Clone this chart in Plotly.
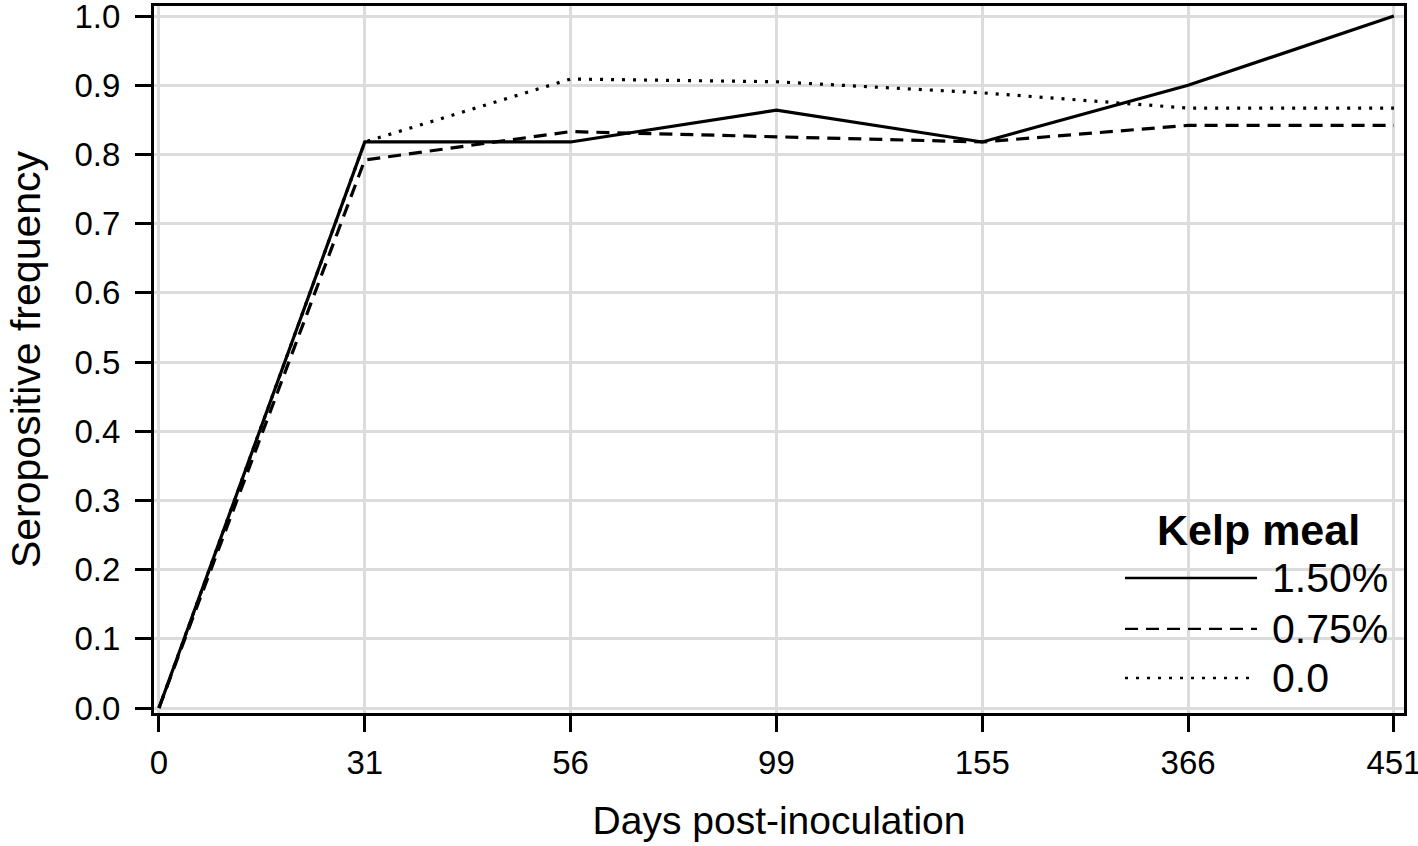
import plotly.graph_objects as go

days = ["0", "31", "56", "99", "155", "366", "451"]
kelp_150 = [0.0, 0.818, 0.818, 0.864, 0.818, 0.900, 1.000]
kelp_075 = [0.0, 0.792, 0.833, 0.826, 0.818, 0.842, 0.842]
kelp_000 = [0.0, 0.818, 0.909, 0.905, 0.889, 0.867, 0.867]

series_names = ["1.50%", "0.75%", "0.0"]
series_values = [kelp_150, kelp_075, kelp_000]
series_dash = ["solid", "13px,8px", "3px,8px"]

FONT = "Liberation Sans, Arial, sans-serif"
fig = go.Figure()
for name, vals, dash in zip(series_names[::-1], series_values[::-1], series_dash[::-1]):
    fig.add_trace(go.Scatter(x=days, y=vals, mode="lines", name=name,
                             line=dict(color="black", width=3.2, dash=dash),
                             showlegend=False))

# Custom legend (long line samples like the reference)
leg_y = [0.191, 0.119, 0.0495]
for name, dash, yy in zip(series_names, series_dash, leg_y):
    fig.add_shape(type="line", xref="paper", yref="paper",
                  x0=0.7768, x1=0.8824, y0=yy, y1=yy,
                  line=dict(color="black", width=2.4, dash=dash))
    fig.add_annotation(xref="paper", yref="paper", x=0.8924, y=yy, text=name,
                       showarrow=False, xanchor="left", yanchor="middle",
                       font=dict(family=FONT, size=41, color="black"))
fig.add_annotation(xref="paper", yref="paper", x=0.8832, y=0.2589, text="<b>Kelp meal</b>",
                   showarrow=False, xanchor="center", yanchor="middle",
                   font=dict(family=FONT, size=43, color="black"))

fig.update_layout(
    width=1418, height=846,
    margin=dict(l=154, r=14, t=6, b=133),
    plot_bgcolor="white", paper_bgcolor="white",
    font=dict(family=FONT, color="black"),
)
fig.update_xaxes(
    type="category", categoryorder="array", categoryarray=days,
    range=[-0.024, 6.049], automargin=False, ticklabeloverflow="allow",
    showline=True, linecolor="black", linewidth=3, mirror=True,
    ticks="outside", ticklen=16, tickwidth=3, tickcolor="black",
    showgrid=True, gridcolor="#dcdcdc", gridwidth=2.5,
    tickfont=dict(family=FONT, size=33), ticklabelstandoff=2,
    title=dict(text="Days post-inoculation", font=dict(family=FONT, size=39), standoff=28),
)
fig.update_yaxes(
    range=[-0.0072, 1.0145], tickvals=[i / 10 for i in range(11)],
    tickformat=".1f", automargin=False, ticklabeloverflow="allow",
    showline=True, linecolor="black", linewidth=3, mirror=True,
    ticks="outside", ticklen=16, tickwidth=3, tickcolor="black",
    showgrid=True, gridcolor="#dcdcdc", gridwidth=2.5, zeroline=False,
    tickfont=dict(family=FONT, size=33), ticklabelstandoff=8,
    title=dict(text="Seropositive frequency", font=dict(family=FONT, size=41), standoff=22),
)

fig.write_html("out.html", config={"displayModeBar": False},
               post_script="document.body.style.margin='0';")
